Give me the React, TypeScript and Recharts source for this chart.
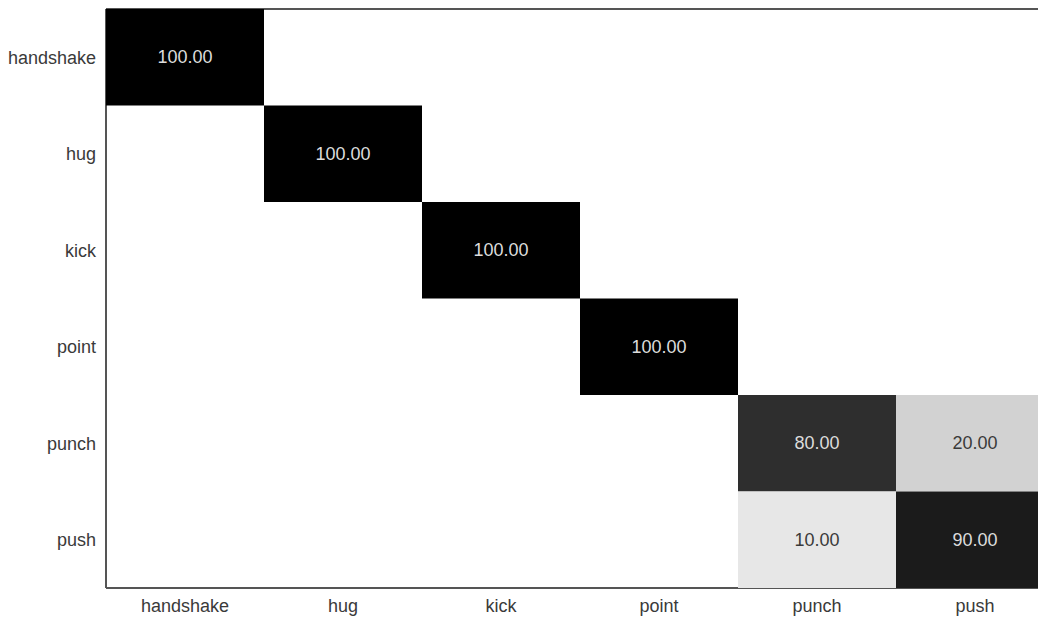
import { ScatterChart, Scatter, XAxis, YAxis, ReferenceLine } from 'recharts';

const classes = ['handshake', 'hug', 'kick', 'point', 'punch', 'push'];

const rowHandshake = [100, 0, 0, 0, 0, 0];
const rowHug = [0, 100, 0, 0, 0, 0];
const rowKick = [0, 0, 100, 0, 0, 0];
const rowPoint = [0, 0, 0, 100, 0, 0];
const rowPunch = [0, 0, 0, 0, 80, 20];
const rowPush = [0, 0, 0, 0, 10, 90];

const rows = [rowHandshake, rowHug, rowKick, rowPoint, rowPunch, rowPush];
const ticks = [0.5, 1.5, 2.5, 3.5, 4.5, 5.5];

const CHART_W = 1046;
const CHART_H = 616;
const MARGIN = { top: 1, right: 0, bottom: 0, left: 0 };
const Y_AXIS_W = 98;
const X_AXIS_H = 36;
const PLOT_W = CHART_W - Y_AXIS_W - MARGIN.left - MARGIN.right;
const PLOT_H = CHART_H - X_AXIS_H - MARGIN.top - MARGIN.bottom;
const CELL_W = PLOT_W / classes.length;
const CELL_H = PLOT_H / classes.length;

const FONT = '"Liberation Sans", Arial, sans-serif';

// non-zero cells only, blank cells stay white
const cells = rows.flatMap((row, r) =>
  row
    .map((v, c) => ({ x: c + 0.5, y: r + 0.5, value: v }))
    .filter((d) => d.value > 0)
);

function cellFill(v: number) {
  if (v >= 100) return '#000000';
  if (v >= 90) return '#1b1b1b';
  if (v >= 80) return '#2e2e2e';
  if (v >= 20) return '#d2d2d2';
  if (v >= 10) return '#e7e7e7';
  return '#ffffff';
}

const HeatCell = (props: any) => {
  const { cx, cy, payload } = props;
  const v = payload.value;
  const dark = v >= 50;
  return (
    <g>
      <rect x={cx - CELL_W / 2} y={cy - CELL_H / 2} width={CELL_W} height={CELL_H} fill={cellFill(v)} />
      <text
        x={cx}
        y={cy}
        textAnchor="middle"
        dominantBaseline="central"
        fontFamily={FONT}
        fontSize={18}
        fill={dark ? '#dcdcdc' : '#3a3a3a'}
      >
        {v.toFixed(2)}
      </text>
    </g>
  );
};

export default function App() {
  const tickStyle = { fontFamily: FONT, fontSize: 18, fill: '#3a3a3a' };
  return (
    <div style={{ width: 1038, height: CHART_H, overflow: 'hidden', background: '#fff' }}>
      <ScatterChart width={CHART_W} height={CHART_H} margin={MARGIN}>
        <XAxis
          type="number"
          dataKey="x"
          domain={[0, 6]}
          ticks={ticks}
          tickFormatter={(t: number) => classes[Math.floor(t)]}
          height={X_AXIS_H}
          tickLine={false}
          axisLine={{ stroke: '#555', strokeWidth: 2 }}
          tick={tickStyle}
          tickMargin={5}
          interval={0}
        />
        <YAxis
          type="number"
          dataKey="y"
          domain={[0, 6]}
          reversed
          ticks={ticks}
          tickFormatter={(t: number) => classes[Math.floor(t)]}
          width={Y_AXIS_W}
          tickLine={false}
          axisLine={{ stroke: '#555', strokeWidth: 2 }}
          tick={tickStyle}
          tickMargin={4}
          interval={0}
        />
        <Scatter data={cells} shape={HeatCell} isAnimationActive={false} />
        <ReferenceLine y={0} stroke="#555" strokeWidth={2} />
      </ScatterChart>
    </div>
  );
}
